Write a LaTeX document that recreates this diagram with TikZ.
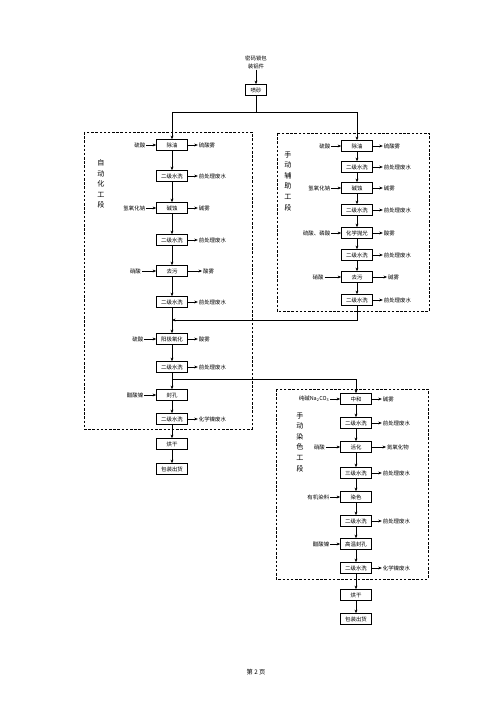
\documentclass[tikz,border=0pt]{standalone}
\usepackage{fontspec}
\setmainfont{Noto Sans CJK SC}
\usepackage{tikz}
\usetikzlibrary{arrows.meta, positioning}
\tikzset{
	stepbox/.style  ={rectangle, draw=black, line width=0.8pt, minimum width=1.3cm, minimum height=0.46cm, inner sep=1pt, align=center, font=\fontsize{6.5}{7}\selectfont},
	matin/.style    ={inner sep=1pt, font=\fontsize{6.5}{7}\selectfont},
	flow/.style     ={-{Stealth[length=1.5mm, width=1.2mm]}, line width=0.6pt},
	% dashed section frames
	zone/.style     ={line width=1pt, dash pattern=on 3pt off 2pt},
	zonelabel/.style={align=center, font=\fontsize{8.5}{12.6}\selectfont},
}

\begin{document}
\begin{tikzpicture}[x=0.042cm, y=-0.042cm]
	\useasboundingbox (0,0) rectangle (500,707);
	% raw part and sand blasting
	\node[matin, align=center, font=\fontsize{6.5}{9.5}\selectfont] (src) at (256,62) {密码锁包\\装铝件};
	\node[stepbox, minimum width=0.9cm] (ps) at (256,90) {喷砂};
	\coordinate (sp) at (256,112);
	% automatic line
	\draw[zone] (84,132) rectangle (252,429);
	\node[zonelabel] (zl) at (101,184) {自\\动\\化\\工\\段};
	\node[stepbox] (lA) at (172,145) {除油};
	\node[stepbox] (lB) at (172,176) {二级水洗};
	\node[stepbox] (lC) at (172,208) {碱蚀};
	\node[stepbox] (lD) at (172,240) {二级水洗};
	\node[stepbox] (lE) at (172,271) {去污};
	\node[stepbox] (lF) at (172,302) {二级水洗};
	\node[stepbox] (lG) at (172,339) {阳极氧化};
	\node[stepbox] (lH) at (172,367) {二级水洗};
	\node[stepbox] (lI) at (172,395) {封孔};
	\node[stepbox] (lJ) at (172,419) {二级水洗};
	\node[stepbox] (lK) at (172,444) {烘干};
	\node[stepbox] (lL) at (172,469) {包装出货};
	\node[matin, left=0.42cm of lA] (lAi) {硫酸};
	\node[matin, left=0.42cm of lC] (lCi) {氢氧化钠};
	\node[matin, left=0.6cm of lE] (lEi) {硝酸};
	\node[matin, left=0.5cm of lG] (lGi) {硫酸};
	\node[matin, left=0.5cm of lI] (lIi) {醋酸镍};
	\node[matin, right=0.42cm of lA] (lAo) {硫酸雾};
	\node[matin, right=0.42cm of lB] (lBo) {前处理废水};
	\node[matin, right=0.42cm of lC] (lCo) {碱雾};
	\node[matin, right=0.42cm of lD] (lDo) {前处理废水};
	\node[matin, right=0.6cm of lE] (lEo) {酸雾};
	\node[matin, right=0.42cm of lF] (lFo) {前处理废水};
	\node[matin, right=0.42cm of lG] (lGo) {酸雾};
	\node[matin, right=0.42cm of lH] (lHo) {前处理废水};
	\node[matin, right=0.42cm of lJ] (lJo) {化学镍废水};
	\coordinate (mg) at (172,320);
	\coordinate (br) at (172,379);
	% manual assist line
	\draw[zone] (277,133) rectangle (429,311);
	\node[zonelabel] (zr) at (288,181) {手\\动\\辅\\助\\工\\段};
	\node[stepbox] (rA) at (357,146) {除油};
	\node[stepbox] (rB) at (357,167) {二级水洗};
	\node[stepbox] (rC) at (357,188) {碱蚀};
	\node[stepbox] (rD) at (357,210) {二级水洗};
	\node[stepbox] (rE) at (357,233) {化学抛光};
	\node[stepbox] (rF) at (357,255) {二级水洗};
	\node[stepbox] (rG) at (357,277) {去污};
	\node[stepbox] (rH) at (357,300) {二级水洗};
	\node[matin, left=0.42cm of rA] (rAi) {硫酸};
	\node[matin, left=0.42cm of rC] (rCi) {氢氧化钠};
	\node[matin, left=0.42cm of rE] (rEi) {硫酸、磷酸};
	\node[matin, left=0.7cm of rG] (rGi) {硝酸};
	\node[matin, right=0.42cm of rA] (rAo) {硫酸雾};
	\node[matin, right=0.42cm of rB] (rBo) {前处理废水};
	\node[matin, right=0.42cm of rC] (rCo) {碱雾};
	\node[matin, right=0.42cm of rD] (rDo) {前处理废水};
	\node[matin, right=0.42cm of rE] (rEo) {酸雾};
	\node[matin, right=0.42cm of rF] (rFo) {前处理废水};
	\node[matin, right=0.6cm of rG] (rGo) {碱雾};
	\node[matin, right=0.42cm of rH] (rHo) {前处理废水};
	% manual dyeing line
	\draw[zone] (276,389) rectangle (428,579);
	\node[zonelabel] (zd) at (300,442) {手\\动\\染\\色\\工\\段};
	\node[stepbox] (dA) at (356,399) {中和};
	\node[stepbox] (dB) at (356,423) {二级水洗};
	\node[stepbox] (dC) at (356,447) {活化};
	\node[stepbox] (dD) at (356,473) {三级水洗};
	\node[stepbox] (dE) at (356,497) {染色};
	\node[stepbox] (dF) at (356,521) {二级水洗};
	\node[stepbox] (dG) at (356,544) {高温封孔};
	\node[stepbox] (dH) at (356,568) {二级水洗};
	\node[stepbox] (dI) at (356,595) {烘干};
	\node[stepbox] (dJ) at (356,619) {包装出货};
	\node[matin, left=0.42cm of dA] (dAi) {纯碱Na\textsubscript{2}CO\textsubscript{3}};
	\node[matin, left=0.6cm of dC] (dCi) {硝酸};
	\node[matin, left=0.42cm of dE] (dEi) {有机染料};
	\node[matin, left=0.42cm of dG] (dGi) {醋酸镍};
	\node[matin, right=0.42cm of dA] (dAo) {碱雾};
	\node[matin, right=0.42cm of dB] (dBo) {前处理废水};
	\node[matin, right=0.6cm of dC] (dCo) {氮氧化物};
	\node[matin, right=0.42cm of dD] (dDo) {前处理废水};
	\node[matin, right=0.42cm of dF] (dFo) {前处理废水};
	\node[matin, right=0.42cm of dH] (dHo) {化学镍废水};
	% page number
	\node[font=\fontsize{7.5}{8}\selectfont] (pg) at (256,672) {第 2 页};
	% connectors
	\draw[flow] (src) -- (ps);
	\draw[line width=0.6pt] (ps) -- (sp);
	\draw[flow] (sp) -| (lA);
	\draw[flow] (sp) -| (rA);
	\draw[flow] (lA) -- (lB); \draw[flow] (lB) -- (lC); \draw[flow] (lC) -- (lD);
	\draw[flow] (lD) -- (lE); \draw[flow] (lE) -- (lF); \draw[flow] (lF) -- (lG);
	\draw[flow] (lG) -- (lH); \draw[flow] (lH) -- (lI); \draw[flow] (lI) -- (lJ);
	\draw[flow] (lJ) -- (lK); \draw[flow] (lK) -- (lL);
	\draw[flow] (lAi) -- (lA); \draw[flow] (lCi) -- (lC); \draw[flow] (lEi) -- (lE);
	\draw[flow] (lGi) -- (lG); \draw[flow] (lIi) -- (lI);
	\draw[flow] (lA) -- (lAo); \draw[flow] (lB) -- (lBo); \draw[flow] (lC) -- (lCo);
	\draw[flow] (lD) -- (lDo); \draw[flow] (lE) -- (lEo); \draw[flow] (lF) -- (lFo);
	\draw[flow] (lG) -- (lGo); \draw[flow] (lH) -- (lHo); \draw[flow] (lJ) -- (lJo);
	\draw[flow] (rA) -- (rB); \draw[flow] (rB) -- (rC); \draw[flow] (rC) -- (rD);
	\draw[flow] (rD) -- (rE); \draw[flow] (rE) -- (rF); \draw[flow] (rF) -- (rG);
	\draw[flow] (rG) -- (rH);
	\draw[flow] (rAi) -- (rA); \draw[flow] (rCi) -- (rC); \draw[flow] (rEi) -- (rE);
	\draw[flow] (rGi) -- (rG);
	\draw[flow] (rA) -- (rAo); \draw[flow] (rB) -- (rBo); \draw[flow] (rC) -- (rCo);
	\draw[flow] (rD) -- (rDo); \draw[flow] (rE) -- (rEo); \draw[flow] (rF) -- (rFo);
	\draw[flow] (rG) -- (rGo); \draw[flow] (rH) -- (rHo);
	\draw[flow] (rH) |- (mg);
	\draw[flow] (br) -| (dA);
	\draw[flow] (dA) -- (dB); \draw[flow] (dB) -- (dC); \draw[flow] (dC) -- (dD);
	\draw[flow] (dD) -- (dE); \draw[flow] (dE) -- (dF); \draw[flow] (dF) -- (dG);
	\draw[flow] (dG) -- (dH); \draw[flow] (dH) -- (dI); \draw[flow] (dI) -- (dJ);
	\draw[flow] (dAi) -- (dA); \draw[flow] (dCi) -- (dC); \draw[flow] (dEi) -- (dE);
	\draw[flow] (dGi) -- (dG);
	\draw[flow] (dA) -- (dAo); \draw[flow] (dB) -- (dBo); \draw[flow] (dC) -- (dCo);
	\draw[flow] (dD) -- (dDo); \draw[flow] (dF) -- (dFo); \draw[flow] (dH) -- (dHo);
\end{tikzpicture}
\end{document}
